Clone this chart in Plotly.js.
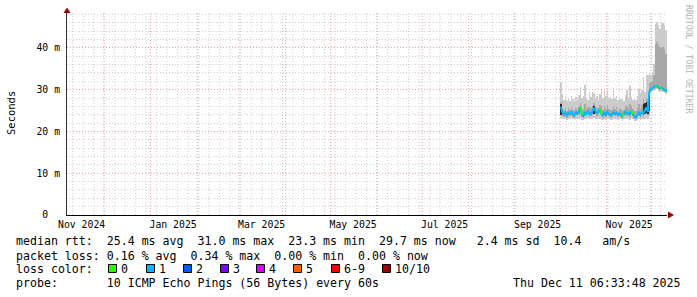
<!DOCTYPE html>
<html><head><meta charset="utf-8">
<script src="https://cdn.plot.ly/plotly-3.0.1.min.js"></script>
<style>html,body{margin:0;padding:0;background:#fff;}#chart{width:697px;height:297px;}</style>
</head><body><div id="chart"></div>
<script>
// ---------- data (ms), one value per day starting 2025-10-01 ----------
const firstDay = [2025, 9, 1];
const median = [
 25.9,24.6,24.1,24.4,23.9,24.5,24.2,24.8,24.0,23.8,
 24.6,24.3,24.7,25.9,24.0,23.7,24.5,24.2,24.9,24.1,
 24.3,24.7,25.6,24.9,24.4,24.6,25.3,24.2,23.9,24.5,
 24.0,24.7,24.3,23.8,24.1,24.6,24.2,24.5,24.0,24.3,
 24.1,23.6,24.2,24.8,24.3,24.5,24.0,24.9,24.2,23.5,
 23.4,24.1,24.5,23.9,24.6,24.3,25.2,25.8,24.7,29.5,
 30.1,30.4,30.6,30.9,31.0,30.6,30.3,30.5,30.2,30.0,29.8,29.7];
const lostPings = [
 1,1,1,1,1,1,1,1,1,1, 1,1,1,0,1,1,1,1,1,1, 1,1,1,1,1,1,0,1,1,1,
 1,1,1,1,1,1,1,1,1,1, 1,0,1,1,1,1,1,0,1,1, 1,1,1,1,1,1,1,1,1,1,
 1,1,1,0,1,1,0,1,1,1,1,1];
const smokeLo = [
 23.2,23.1,22.9,23.0,22.8,23.1,22.9,23.2,23.0,22.8,
 23.1,22.9,23.0,23.3,22.8,22.7,23.0,22.9,23.2,22.9,
 23.0,23.1,23.2,23.0,22.9,23.0,23.1,22.8,22.7,23.0,
 22.8,23.1,22.9,22.7,22.8,23.0,22.9,23.1,22.8,23.0,
 22.9,22.6,22.9,23.1,22.9,23.0,22.8,23.2,22.9,22.6,
 22.5,22.8,23.0,22.7,23.0,22.9,23.1,23.3,23.0,23.6,
 29.3,29.6,29.8,30.0,30.1,29.8,29.5,29.7,29.4,29.2,29.0,28.9];
const smokeHi = [
 31.8,29.0,27.5,28.2,27.4,28.0,27.3,28.6,27.8,27.2,
 28.3,27.6,28.8,30.6,27.9,28.4,31.1,28.0,27.5,29.5,
 28.2,29.4,29.1,27.8,28.5,27.6,28.9,29.9,28.1,29.6,
 28.4,29.8,27.9,28.3,27.7,30.4,28.0,28.6,27.5,28.2,
 27.8,28.0,27.4,28.7,30.0,28.1,31.0,28.3,27.6,28.0,
 27.5,28.4,30.2,29.1,30.0,33.0,29.5,33.6,33.4,33.8,
 33.5,34.0,36.2,45.8,46.1,45.4,44.6,45.9,46.0,45.5,44.4,45.2];
const innerLo = [
 24.2,23.8,23.5,23.7,23.3,23.8,23.6,24.0,23.5,23.3,
 23.9,23.7,23.9,24.5,23.4,23.2,23.8,23.6,24.1,23.5,
 23.7,24.0,24.3,24.1,23.7,23.9,24.4,23.6,23.3,23.8,
 23.4,24.0,23.7,23.3,23.5,23.9,23.6,23.9,23.4,23.7,
 23.5,23.1,23.6,24.0,23.7,23.8,23.4,24.1,23.6,23.0,
 22.9,23.5,23.8,23.3,23.9,23.7,24.2,24.6,23.9,24.8,
 29.7,30.0,30.2,30.4,30.5,30.2,29.9,30.1,29.8,29.6,29.4,29.3];
const innerHi = [
 27.0,25.6,25.1,25.6,24.9,25.5,25.1,25.9,25.2,24.8,
 25.7,25.2,25.9,26.8,25.1,25.3,26.6,25.4,25.9,25.9,
 25.6,26.1,26.9,25.9,25.6,25.6,26.4,26.0,25.2,26.1,
 25.4,26.3,25.4,25.1,25.2,26.2,25.4,25.9,25.0,25.5,
 25.3,25.0,25.2,26.0,26.0,25.7,26.5,26.0,25.3,25.0,
 24.9,25.6,26.5,25.4,26.3,27.8,26.5,28.0,27.6,31.5,
 31.8,32.2,33.5,41.0,41.3,41.0,40.2,40.0,40.3,39.8,38.6,38.2];
const N = null;
const coreLo = [
 24.0,N,N,N,N,N,N,N,N,N, N,N,N,N,N,N,N,N,N,N, N,N,24.3,N,N,N,N,N,N,N,
 N,N,N,N,N,N,N,N,N,N, N,N,N,N,N,N,N,N,N,N, N,N,N,N,N,24.0,24.2,24.5,24.1,24.8,
 N,N,N,N,N,N,N,N,N,N,N,N];
const coreHi = [
 26.6,N,N,N,N,N,N,N,N,N, N,N,N,N,N,N,N,N,N,N, N,N,26.0,N,N,N,N,N,N,N,
 N,N,N,N,N,N,N,N,N,N, N,N,N,N,N,N,N,N,N,N, N,N,N,N,N,26.5,26.8,27.0,26.2,29.4,
 N,N,N,N,N,N,N,N,N,N,N,N];

const xTickVals = ['2024-11-16','2025-01-16','2025-03-16','2025-05-16','2025-07-16','2025-09-16','2025-11-16'];
const xTickText = ['Nov 2024','Jan 2025','Mar 2025','May 2025','Jul 2025','Sep 2025','Nov 2025'];
const yTickVals = [0,10,20,30,40];
const yTickText = ['0\u00a0\u00a0','10 m','20 m','30 m','40 m'];

const rttStats = [25.4, 31.0, 23.3, 29.7, 2.4];   // avg max min now sd
const amS = 10.4;
const lossStats = [0.16, 0.34, 0.00, 0.00];       // avg max min now
const lossLabels = ['0','1','2','3','4','5','6-9','10/10'];
const lossColors = ['#26ff00','#00b8ff','#0059ff','#7e00ff','#dd00ff','#ff5e00','#ff0000','#a10000'];
const probeText = '10 ICMP Echo Pings (56 Bytes) every 60s';
const stampText = 'Thu Dec 11 06:33:48 2025';

// ---------- build ----------
const DAY = 86400000;
const dates = median.map((_, i) => {
  const d = new Date(Date.UTC(firstDay[0], firstDay[1], firstDay[2] + i, 12));
  return d.toISOString().slice(0, 19).replace('T', ' ');
});
function band(lo, hi, color) {
  return {type:'bar', x:dates, base:lo, y:hi.map((h,i)=> (h==null||lo[i]==null)?null:+(h-lo[i]).toFixed(3)),
    width:dates.map(()=>DAY), marker:{color:color, line:{width:0}}, hoverinfo:'skip', showlegend:false};
}
const lossIdx = lostPings.map(l => l <= 5 ? l : (l < 10 ? 6 : 7));
const traces = [band(smokeLo, smokeHi, '#cbcbcb'), band(innerLo, innerHi, '#a8a8a8'), band(coreLo, coreHi, '#2a2a2a')];
const order = [1,0,2,3,4,5,6,7];
order.forEach(k => {
  if (!lossIdx.includes(k)) return;
  const y = median.map((v,i) => (lossIdx[i]===k || (i>0 && lossIdx[i-1]===k)) ? v : null);
  traces.push({type:'scatter', mode:'lines', x:dates, y:y, line:{color:lossColors[k], width:2},
    hoverinfo:'skip', showlegend:false, connectgaps:false});
});

// grid shapes (vertical)
const L = 67, R = 667, T = 12, B = 215;
const px = x => (x - L) / (R - L);
const py = y => (B - y) / (B - T);
const shapes = [];
for (let d = new Date(Date.UTC(2024,10,10)); d < new Date(Date.UTC(2025,11,12)); d = new Date(d.getTime()+7*DAY)) {
  shapes.push({type:'line', xref:'x', yref:'paper', x0:d.toISOString().slice(0,10), x1:d.toISOString().slice(0,10), y0:0, y1:1,
    line:{color:'#cfcfcf', width:1, dash:'1px,2px'}, layer:'below'});
}
for (let m = 0; m < 13; m++) {
  const d = new Date(Date.UTC(2024, 11 + m, 1)).toISOString().slice(0,10);
  shapes.push({type:'line', xref:'x', yref:'paper', x0:d, x1:d, y0:0, y1:1,
    line:{color:'#e8a4a4', width:1, dash:'1px,2px'}, layer:'below'});
}
// arrows
shapes.push({type:'path', xref:'paper', yref:'paper', path:`M ${px(63.5)} ${py(13)} L ${px(70.5)} ${py(13)} L ${px(67)} ${py(7.5)} Z`, fillcolor:'#990000', line:{width:0}});
shapes.push({type:'path', xref:'paper', yref:'paper', path:`M ${px(668)} ${py(211.5)} L ${px(668)} ${py(218.5)} L ${px(674)} ${py(215)} Z`, fillcolor:'#990000', line:{width:0}});

const mono = 'DejaVu Sans Mono';
const fs = 11.6;
const ann = [];
function txt(text, x, y, opts) {
  ann.push(Object.assign({xref:'paper', yref:'paper', x:px(x), y:py(y), xanchor:'left', yanchor:'middle',
    text:text.replace(/ /g,'\u00a0'), showarrow:false, borderpad:0, borderwidth:0,
    font:{family:mono, size:fs, color:'#000'}}, opts||{}));
}
const f = (v, w) => v.toFixed(w===undefined?1:w);
const line1 = 'median rtt:  ' + f(rttStats[0]) + ' ms avg  ' + f(rttStats[1]) + ' ms max  ' + f(rttStats[2]) + ' ms min  ' +
  f(rttStats[3]) + ' ms now   ' + f(rttStats[4]) + ' ms sd  ' + f(amS) + '   am/s';
const line2 = 'packet loss: ' + f(lossStats[0],2) + ' % avg  ' + f(lossStats[1],2) + ' % max  ' + f(lossStats[2],2) + ' % min  ' + f(lossStats[3],2) + ' % now';
txt(line1, 16, 241);
txt(line2, 16, 255.5);
txt('loss color:', 16, 268.5);
const boxX = [108,146,183,220,256,293,331,382];
lossLabels.forEach((lab, k) => {
  shapes.push({type:'rect', xref:'paper', yref:'paper', x0:px(boxX[k]+0.5), x1:px(boxX[k]+8.5), y0:py(264.5), y1:py(272.5),
    fillcolor:lossColors[k], line:{color:'#000', width:1}});
  txt(lab, boxX[k]+13, 268.5);
});
txt('probe:       ' + probeText, 16, 282.5);
txt(stampText, 681, 282.5, {xanchor:'right'});
ann.push({xref:'paper', yref:'paper', x:px(689), y:py(59), xanchor:'center', yanchor:'middle', textangle:90,
  text:'RRDTOOL / TOBI OETIKER', showarrow:false, font:{family:mono, size:8.2, color:'#b4b4b4'}});
ann.push({xref:'paper', yref:'paper', x:px(11), y:py(113), xanchor:'center', yanchor:'middle', textangle:-90,
  text:'Seconds', showarrow:false, font:{family:mono, size:10.5, color:'#000'}});

const layout = {
  width:697, height:297, margin:{l:L, r:697-R, t:T, b:297-B},
  paper_bgcolor:'#fff', plot_bgcolor:'#fff', showlegend:false,
  barmode:'overlay', bargap:0, hovermode:false,
  xaxis:{type:'date', range:['2024-11-06 06:33','2025-12-11 06:33'], tickmode:'array', tickvals:xTickVals, ticktext:xTickText,
    showgrid:false, zeroline:false, showline:true, linecolor:'#000', linewidth:1, ticks:'',
    tickfont:{family:mono, size:9.8, color:'#000'}, fixedrange:true},
  yaxis:{range:[0,48.6], tickmode:'array', tickvals:yTickVals, ticktext:yTickText, showgrid:true,
    gridcolor:'#e8a4a4', griddash:'1px,2px', gridwidth:1, zeroline:false, showline:true, linecolor:'#333', linewidth:1,
    ticks:'', ticklabelstandoff:4, tickfont:{family:mono, size:9.8, color:'#000'},
    minor:{tickmode:'linear', tick0:0, dtick:2, showgrid:true, gridcolor:'#cfcfcf', griddash:'1px,2px', gridwidth:1}, fixedrange:true},
  shapes:shapes, annotations:ann
};
Plotly.newPlot('chart', traces, layout, {staticPlot:true, displayModeBar:false});
</script></body></html>
